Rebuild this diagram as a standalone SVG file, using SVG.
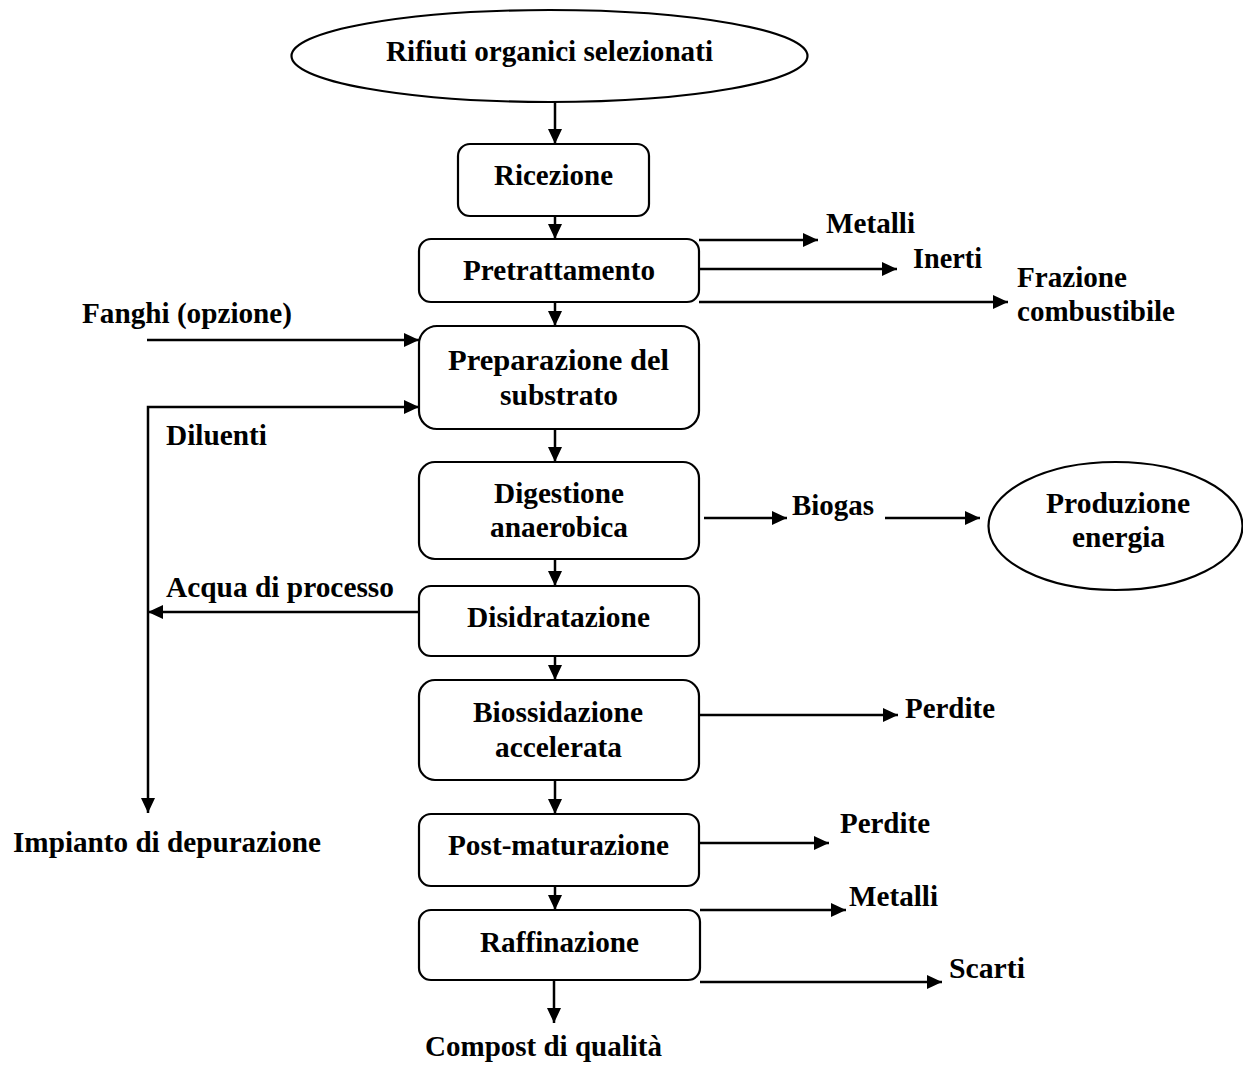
<svg xmlns="http://www.w3.org/2000/svg" width="1243" height="1068" viewBox="0 0 1243 1068">
<defs>
<style>
.box{fill:#fff;stroke:#000;stroke-width:2.2}
.t{font-family:"Liberation Serif","Times New Roman",serif;font-weight:bold;font-size:29px;fill:#000}
.big{font-size:30px}
.c{fill:none;stroke:#000;stroke-width:2.5}
</style>
<marker id="ah" markerUnits="userSpaceOnUse" markerWidth="15" markerHeight="14" refX="15" refY="7" orient="auto">
<path d="M0,0 L15,7 L0,14 z" fill="#000"/>
</marker>
</defs>
<rect width="1243" height="1068" fill="#fff"/>
<g id="connectors">
<path class="c" marker-end="url(#ah)" d="M555,102 V144"/>
<path class="c" marker-end="url(#ah)" d="M555,216 V239"/>
<path class="c" marker-end="url(#ah)" d="M555,302 V326"/>
<path class="c" marker-end="url(#ah)" d="M555,429 V462"/>
<path class="c" marker-end="url(#ah)" d="M555,559 V586"/>
<path class="c" marker-end="url(#ah)" d="M555,656 V680"/>
<path class="c" marker-end="url(#ah)" d="M555,780 V814"/>
<path class="c" marker-end="url(#ah)" d="M555,886 V910"/>
<path class="c" marker-end="url(#ah)" d="M554,980 V1023"/>
<path class="c" marker-end="url(#ah)" d="M699,240 H818"/>
<path class="c" marker-end="url(#ah)" d="M699,269 H897"/>
<path class="c" marker-end="url(#ah)" d="M699,302 H1008"/>
<path class="c" marker-end="url(#ah)" d="M147,340 H419"/>
<path class="c" marker-end="url(#ah)" d="M148,612 V407 H419"/>
<path class="c" marker-end="url(#ah)" d="M148,612 V813"/>
<path class="c" marker-end="url(#ah)" d="M419,612 H148"/>
<path class="c" marker-end="url(#ah)" d="M704,518 H787"/>
<path class="c" marker-end="url(#ah)" d="M885,518 H980"/>
<path class="c" marker-end="url(#ah)" d="M699,715 H898"/>
<path class="c" marker-end="url(#ah)" d="M699,843 H829"/>
<path class="c" marker-end="url(#ah)" d="M700,910 H846"/>
<path class="c" marker-end="url(#ah)" d="M700,982 H942"/>
</g>
<g id="n-rifiuti">
<ellipse class="box" cx="549.5" cy="56" rx="258" ry="46"/>
<text class="t" x="386" y="61" textLength="327" lengthAdjust="spacingAndGlyphs">Rifiuti organici selezionati</text>
</g>
<g id="n-ricezione">
<rect class="box" x="458" y="144" width="191" height="72" rx="12"/>
<text class="t" x="494" y="185" textLength="119" lengthAdjust="spacingAndGlyphs">Ricezione</text>
</g>
<g id="n-pretrattamento">
<rect class="box" x="419" y="239" width="280" height="63" rx="12"/>
<text class="t" x="463" y="280" textLength="192" lengthAdjust="spacingAndGlyphs">Pretrattamento</text>
</g>
<g id="n-preparazione">
<rect class="box" x="419" y="326" width="280" height="103" rx="18"/>
<text class="t big" x="448" y="370" textLength="221" lengthAdjust="spacingAndGlyphs">Preparazione del</text>
<text class="t big" x="500" y="405" textLength="118" lengthAdjust="spacingAndGlyphs">substrato</text>
</g>
<g id="n-digestione">
<rect class="box" x="419" y="462" width="280" height="97" rx="16"/>
<text class="t" x="494" y="503" textLength="130" lengthAdjust="spacingAndGlyphs">Digestione</text>
<text class="t" x="490" y="537" textLength="138" lengthAdjust="spacingAndGlyphs">anaerobica</text>
</g>
<g id="n-produzione">
<ellipse class="box" cx="1115.5" cy="526" rx="127" ry="64"/>
<text class="t" x="1046" y="513" textLength="144" lengthAdjust="spacingAndGlyphs">Produzione</text>
<text class="t" x="1072" y="547" textLength="93" lengthAdjust="spacingAndGlyphs">energia</text>
</g>
<g id="n-disidratazione">
<rect class="box" x="419" y="586" width="280" height="70" rx="12"/>
<text class="t" x="467" y="627" textLength="183" lengthAdjust="spacingAndGlyphs">Disidratazione</text>
</g>
<g id="n-biossidazione">
<rect class="box" x="419" y="680" width="280" height="100" rx="16"/>
<text class="t" x="473" y="722" textLength="170" lengthAdjust="spacingAndGlyphs">Biossidazione</text>
<text class="t" x="495" y="757" textLength="127" lengthAdjust="spacingAndGlyphs">accelerata</text>
</g>
<g id="n-postmaturazione">
<rect class="box" x="419" y="814" width="280" height="72" rx="12"/>
<text class="t" x="448" y="855" textLength="221" lengthAdjust="spacingAndGlyphs">Post-maturazione</text>
</g>
<g id="n-raffinazione">
<rect class="box" x="419" y="910" width="281" height="70" rx="12"/>
<text class="t" x="480" y="952" textLength="159" lengthAdjust="spacingAndGlyphs">Raffinazione</text>
</g>
<g id="labels">
<text class="t" x="826" y="233" textLength="89" lengthAdjust="spacingAndGlyphs">Metalli</text>
<text class="t" x="913" y="268" textLength="69" lengthAdjust="spacingAndGlyphs">Inerti</text>
<text class="t" x="1017" y="287" textLength="110" lengthAdjust="spacingAndGlyphs">Frazione</text>
<text class="t" x="1017" y="321" textLength="158" lengthAdjust="spacingAndGlyphs">combustibile</text>
<text class="t" x="82" y="323" textLength="210" lengthAdjust="spacingAndGlyphs">Fanghi (opzione)</text>
<text class="t" x="166" y="445" textLength="101" lengthAdjust="spacingAndGlyphs">Diluenti</text>
<text class="t" x="792" y="515" textLength="82" lengthAdjust="spacingAndGlyphs">Biogas</text>
<text class="t" x="166" y="597" textLength="228" lengthAdjust="spacingAndGlyphs">Acqua di processo</text>
<text class="t" x="905" y="718" textLength="90" lengthAdjust="spacingAndGlyphs">Perdite</text>
<text class="t" x="840" y="833" textLength="90" lengthAdjust="spacingAndGlyphs">Perdite</text>
<text class="t" x="13" y="852" textLength="308" lengthAdjust="spacingAndGlyphs">Impianto di depurazione</text>
<text class="t" x="849" y="906" textLength="89" lengthAdjust="spacingAndGlyphs">Metalli</text>
<text class="t" x="949" y="978" textLength="76" lengthAdjust="spacingAndGlyphs">Scarti</text>
<text class="t" x="425" y="1056" textLength="237" lengthAdjust="spacingAndGlyphs">Compost di qualità</text>
</g>
</svg>
